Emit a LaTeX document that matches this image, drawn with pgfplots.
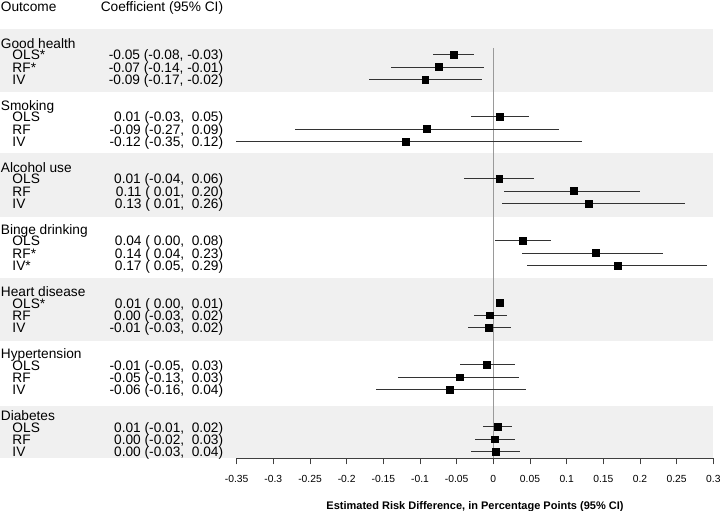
\documentclass[border=0pt]{standalone}
\usepackage{fontspec}
\setmainfont{Liberation Sans}
\usepackage{pgfplots}
\pgfplotsset{compat=1.18}
\usepackage{pgfplotstable}
\definecolor{band}{HTML}{F0F0F0}
\definecolor{cil}{HTML}{333333}
\definecolor{zero}{HTML}{9A9A9A}

\pgfplotstableread{
y   est     lo      hi
-1  -0.054  -0.082  -0.026
-2  -0.075  -0.140  -0.013
-3  -0.093  -0.170  -0.016
-6   0.009  -0.031   0.049
-7  -0.091  -0.270   0.090
-8  -0.120  -0.351   0.121
-11  0.008  -0.040   0.056
-12  0.110   0.014   0.200
-13  0.130   0.012   0.261
-16  0.040   0.002   0.078
-17  0.140   0.039   0.231
-18  0.170   0.046   0.291
-21  0.009   0.004   0.015
-22 -0.005  -0.027   0.018
-23 -0.006  -0.034   0.024
-26 -0.009  -0.046   0.030
-27 -0.046  -0.130   0.035
-28 -0.059  -0.160   0.044
-31  0.006  -0.014   0.025
-32  0.002  -0.025   0.030
-33  0.003  -0.031   0.036
}\estimates

\newcommand{\tfont}{\fontsize{13.7bp}{14bp}\selectfont}
\newcommand{\Lx}{-0.67273}
\newcommand{\grp}[2]{\node[anchor=base west, font=\tfont, inner sep=0pt] at ([xshift=0.7bp, yshift=-6bp]axis cs:\Lx,#1) {#2};}
\newcommand{\rw}[3]{%
  \node[anchor=base west, font=\tfont, inner sep=0pt] at ([xshift=12.3bp, yshift=-5.3bp]axis cs:\Lx,#1) {#2};
  \node[anchor=base east, font=\tfont, inner sep=0pt] at ([xshift=223.3bp, yshift=-5.3bp]axis cs:\Lx,#1) {#3};}

\begin{document}
\begin{tikzpicture}
\begin{axis}[
  scale only axis, width=476.67bp, height=458.3bp,
  xmin=-0.35, xmax=0.3, ymin=-33.548, ymax=3.411,
  clip=false,
  axis x line=bottom, axis y line=none,
  x axis line style={-, draw=black!75, line width=0.8bp},
  xtick={-0.35,-0.3,-0.25,-0.2,-0.15,-0.1,-0.05,0,0.05,0.1,0.15,0.2,0.25,0.3},
  xticklabels={-0.35,-0.3,-0.25,-0.2,-0.15,-0.1,-0.05,0,0.05,0.1,0.15,0.2,0.25,0.3},
  tick align=outside, major tick length=6bp,
  xtick style={draw=black!75, line width=0.8bp},
  xticklabel style={font=\fontsize{10.3bp}{12bp}\selectfont, text=black, yshift=-7.5bp},
  ytick=\empty,
]
% alternating bands
\fill[band] (axis cs:\Lx,1.048) rectangle (axis cs:0.3,-4.03);
\fill[band] (axis cs:\Lx,-8.95) rectangle (axis cs:0.3,-14.06);
\fill[band] (axis cs:\Lx,-19.0) rectangle (axis cs:0.3,-24.06);
\fill[band] (axis cs:\Lx,-29.33) rectangle (axis cs:0.3,-33.548);
% zero reference line
\draw[zero, line width=0.8bp] (axis cs:0,-0.46) -- (axis cs:0,-33.548);

\addplot[only marks, mark=square*, mark size=3.4bp,
  mark options={fill=black, draw=black},
  error bars/.cd, x dir=both, x explicit, error mark=none,
  error bar style={cil, line width=1.1bp}]
  table[x=est, y=y,
        x error plus expr=\thisrow{hi}-\thisrow{est},
        x error minus expr=\thisrow{est}-\thisrow{lo}] {\estimates};

% column headers
\node[anchor=base west, font=\tfont, inner sep=0pt] at ([xshift=0.7bp]axis cs:\Lx,2.468) {Outcome};
\node[anchor=base east, font=\tfont, inner sep=0pt] at ([xshift=223.3bp]axis cs:\Lx,2.468) {Coefficient (95\% CI)};

\grp{0}{Good health}
\rw{-1}{OLS*}{-0.05 (-0.08, -0.03)}
\rw{-2}{RF*}{-0.07 (-0.14, -0.01)}
\rw{-3}{IV}{-0.09 (-0.17, -0.02)}

\grp{-5}{Smoking}
\rw{-6}{OLS}{0.01 (-0.03,~~0.05)}
\rw{-7}{RF}{-0.09 (-0.27,~~0.09)}
\rw{-8}{IV}{-0.12 (-0.35,~~0.12)}

\grp{-10}{Alcohol use}
\rw{-11}{OLS}{0.01 (-0.04,~~0.06)}
\rw{-12}{RF}{0.11 (~0.01,~~0.20)}
\rw{-13}{IV}{0.13 (~0.01,~~0.26)}

\grp{-15}{Binge drinking}
\rw{-16}{OLS}{0.04 (~0.00,~~0.08)}
\rw{-17}{RF*}{0.14 (~0.04,~~0.23)}
\rw{-18}{IV*}{0.17 (~0.05,~~0.29)}

\grp{-20}{Heart disease}
\rw{-21}{OLS*}{0.01 (~0.00,~~0.01)}
\rw{-22}{RF}{0.00 (-0.03,~~0.02)}
\rw{-23}{IV}{-0.01 (-0.03,~~0.02)}

\grp{-25}{Hypertension}
\rw{-26}{OLS}{-0.01 (-0.05,~~0.03)}
\rw{-27}{RF}{-0.05 (-0.13,~~0.03)}
\rw{-28}{IV}{-0.06 (-0.16,~~0.04)}

\grp{-30}{Diabetes}
\rw{-31}{OLS}{0.01 (-0.01,~~0.02)}
\rw{-32}{RF}{0.00 (-0.02,~~0.03)}
\rw{-33}{IV}{0.00 (-0.03,~~0.04)}

% x label
\node[anchor=base, font=\bfseries\fontsize{11bp}{13bp}\selectfont, inner sep=0pt]
  at ([yshift=-51bp]axis cs:-0.025,-33.548) {Estimated Risk Difference, in Percentage Points (95\% CI)};

\coordinate (O) at (axis cs:-0.35,-33.548);
\end{axis}
\pgfresetboundingbox
\path[use as bounding box] ([shift={(-236.67bp,-52.7bp)}]O) rectangle ++(720bp,511bp);
\end{tikzpicture}
\end{document}
